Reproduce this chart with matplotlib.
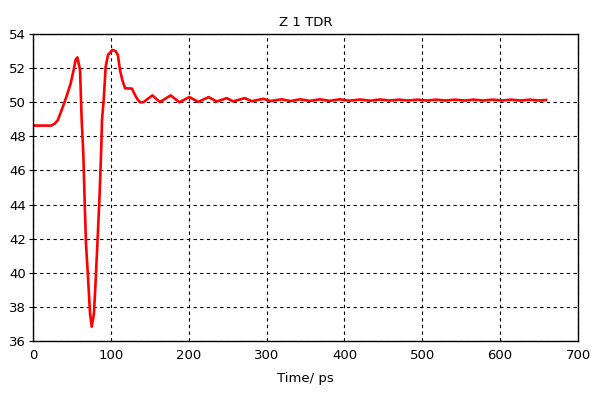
import matplotlib
matplotlib.use("Agg")
import matplotlib.pyplot as plt

# TDR impedance curve
time_ps = [0, 23.5, 28, 32, 36, 40.7, 44.5, 48.4, 52, 54.8, 57, 60.4, 62.5, 64.6,
           66.4, 68, 70.6, 73.2, 75.4, 78.3, 80.5, 83.1, 85.6, 87.7, 88.6, 90.8,
           93.3, 96.3, 101.9, 106, 109, 111.7, 114.7, 118.2, 127, 131, 134.5,
           137.4, 141.7,
           153.3, 163, 176.8, 188, 200.8, 212.3, 225.5, 236, 248.8, 257, 272, 281,
           295.8, 305, 319.4, 331, 343, 356, 368.6, 381, 394, 407, 420, 433,
           445.7, 458, 470, 482, 494, 506, 518, 530, 542, 554, 566, 578, 590,
           602, 614, 626, 638, 650, 659]
z_ohm = [48.63, 48.63, 48.75, 48.96, 49.45, 50.03, 50.55, 51.11, 51.85, 52.5,
         52.63, 51.9, 48.96, 47.0, 44.08, 41.73, 39.77, 37.63, 36.84, 37.63,
         39.58, 42.12, 44.66, 47.39, 48.96, 50.13, 52.08, 52.77, 53.06, 53.0,
         52.77, 51.89, 51.3, 50.82, 50.8, 50.42, 50.15, 50.0, 50.0,
         50.40, 50.01, 50.40, 50.0, 50.3, 50.02, 50.3, 50.04, 50.24, 50.05, 50.24,
         50.06, 50.2, 50.07, 50.17, 50.07, 50.17, 50.08, 50.17, 50.08, 50.17,
         50.09, 50.16, 50.09, 50.16, 50.1, 50.15, 50.1, 50.15, 50.1, 50.15, 50.1,
         50.15, 50.1, 50.15, 50.1, 50.15, 50.1, 50.15, 50.1, 50.15, 50.1, 50.13]

xticks = [0, 100, 200, 300, 400, 500, 600, 700]
yticks = [36, 38, 40, 42, 44, 46, 48, 50, 52, 54]

plt.rcParams['font.family'] = ['DejaVu Sans']
fig = plt.figure(figsize=(5.98, 3.94), dpi=100)
ax = fig.add_axes([0.0552, 0.1345, 0.9114, 0.7792])

ax.plot(time_ps, z_ohm, color='#ff0000', lw=1.9)

ax.set_xlim(0, 700)
ax.set_ylim(36, 54)
ax.set_xticks(xticks)
ax.set_yticks(yticks)
ax.grid(True, color='black', linestyle=(0, (3, 3)), linewidth=0.8)
ax.tick_params(axis='x', length=0, labelsize=9.5, pad=6)
ax.tick_params(axis='y', length=3, width=0.8, labelsize=9.5, pad=2)
for s in ax.spines.values():
    s.set_linewidth(1.0)

ax.set_title("Z 1 TDR", fontsize=9.5, pad=6)
ax.set_xlabel("Time/ ps", fontsize=9.5, labelpad=7)

fig.savefig("out.png", dpi=100)
